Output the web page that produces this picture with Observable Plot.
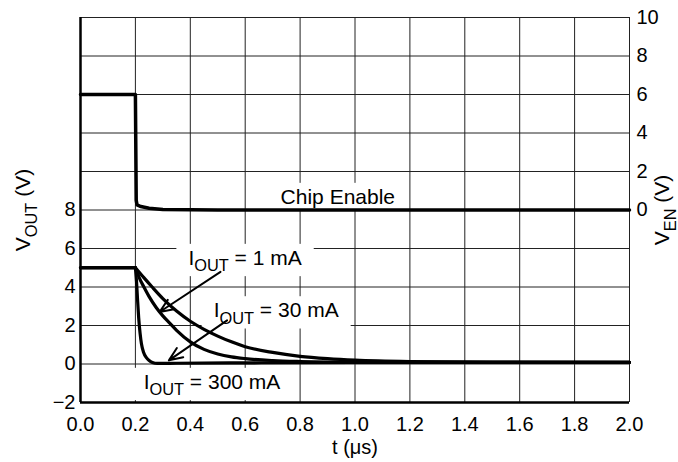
<!DOCTYPE html>
<html><head><meta charset="utf-8">
<script src="https://cdn.jsdelivr.net/npm/d3@7"></script>
<script src="https://cdn.jsdelivr.net/npm/@observablehq/plot@0.6"></script>
<style>
html,body{margin:0;padding:0;background:#fff;}
</style></head><body><div id="chart"></div>
<script>
const FONT = "'Liberation Sans', Arial, Helvetica, sans-serif";

// tick labels
const timeTicks = [0.0, 0.2, 0.4, 0.6, 0.8, 1.0, 1.2, 1.4, 1.6, 1.8, 2.0];
const voutTicks = [-2, 0, 2, 4, 6, 8];
const venTicks = [0, 2, 4, 6, 8, 10];
const gridLevels = [-2, 0, 2, 4, 6, 8, 10, 12, 14, 16, 18];
const VEN_OFFSET = 8; // V_EN 0 sits on V_OUT 8

// series values
const t_1mA = [0, 0.2, 0.23, 0.261, 0.3, 0.35, 0.4, 0.45, 0.5, 0.55, 0.6, 0.7, 0.8, 0.9, 1.0, 1.2, 1.5, 2.0];
const v_1mA = [5.0, 5.0, 4.5, 4.0, 3.4, 2.75, 2.22, 1.8, 1.45, 1.15, 0.9, 0.6, 0.4, 0.28, 0.2, 0.13, 0.1, 0.09];

const t_30mA = [0, 0.2, 0.215, 0.231, 0.25, 0.275, 0.3, 0.325, 0.35, 0.4, 0.45, 0.5, 0.55, 0.6, 0.7, 0.8, 0.9, 1.0, 1.5, 2.0];
const v_30mA = [5.0, 5.0, 4.45, 4.0, 3.5, 2.95, 2.5, 2.12, 1.75, 1.15, 0.76, 0.52, 0.37, 0.28, 0.18, 0.13, 0.1, 0.09, 0.08, 0.08];

const t_300mA = [0, 0.2, 0.204, 0.208, 0.212, 0.217, 0.222, 0.23, 0.24, 0.25, 0.262, 0.28, 0.35, 0.6, 1.0, 2.0];
const v_300mA = [5.0, 5.0, 4.3, 3.3, 2.4, 1.6, 1.05, 0.6, 0.33, 0.18, 0.08, 0.03, 0.04, 0.06, 0.08, 0.08];

const t_chip = [0, 0.2, 0.203, 0.206, 0.22, 0.25, 0.3, 0.5, 1.0, 2.0];
const v_chip = [6.0, 6.0, 0.5, 0.26, 0.18, 0.09, 0.02, 0, 0, 0]; // V_EN

// annotations (data units: t, V_OUT)
const labelText = ["I_{OUT} = 1 mA", "I_{OUT} = 30 mA", "I_{OUT} = 300 mA", "Chip Enable"];
const labelT = [0.393, 0.485, 0.23, 0.729];
const labelV = [5.5, 2.78, -0.94, 8.67];

const arrowT1 = [0.51, 0.534];
const arrowV1 = [4.79, 2.27];
const arrowT2 = [0.288, 0.322];
const arrowV2 = [2.7, 0.19];

// build rows
const rows = [];
const addSeries = (name, ts, vs) => ts.forEach((t, i) => rows.push({series: name, t, v: vs[i]}));
addSeries("1 mA", t_1mA, v_1mA);
addSeries("30 mA", t_30mA, v_30mA);
addSeries("300 mA", t_300mA, v_300mA);
const chipRows = t_chip.map((t, i) => ({t, v: v_chip[i] + VEN_OFFSET}));
const labels = labelText.map((s, i) => ({s, t: labelT[i], v: labelV[i]}));
const arrows = arrowT1.map((t, i) => ({t1: t, v1: arrowV1[i], t2: arrowT2[i], v2: arrowV2[i]}));

const minus = d => (d < 0 ? "\u2212" + Math.abs(d) : String(d));

const chart = Plot.plot({
  width: 678, height: 462,
  marginLeft: 80, marginRight: 49, marginTop: 17, marginBottom: 60,
  x: {domain: [0, 2]},
  y: {domain: [-2, 18]},
  style: {fontFamily: FONT, fontSize: "20px", color: "#000", background: "#fff"},
  marks: [
    Plot.ruleX(timeTicks, {stroke: "#222", strokeWidth: 1}),
    Plot.ruleY(gridLevels, {stroke: "#222", strokeWidth: 1}),
    Plot.ruleX([0], {stroke: "#000", strokeWidth: 2.5}),
    Plot.ruleY([-2], {stroke: "#000", strokeWidth: 2.5}),
    Plot.axisX({ticks: timeTicks, tickFormat: d => d.toFixed(1), tickSize: 0, tickPadding: 14, fontSize: 20, label: null}),
    Plot.axisY({anchor: "left", ticks: voutTicks, tickFormat: minus, tickSize: 0, tickPadding: 5, fontSize: 20, label: null}),
    Plot.axisY({anchor: "right", ticks: venTicks.map(v => v + VEN_OFFSET), tickFormat: d => String(d - VEN_OFFSET), tickSize: 0, tickPadding: 7, fontSize: 20, label: null}),
    Plot.text(labels, {x: "t", y: "v", text: "s", textAnchor: "start", fontSize: 21, fill: "#000", className: "boxed"}),
    Plot.line(chipRows, {x: "t", y: "v", stroke: "#000", strokeWidth: 3.5}),
    Plot.line(rows, {filter: d => d.t <= 0.2, x: "t", y: "v", z: "series", stroke: "#000", strokeWidth: 3.2}),
    Plot.line(rows, {filter: d => d.t >= 0.2, x: "t", y: "v", z: "series", stroke: "#000", strokeWidth: 3.2, curve: "monotone-x"}),
    Plot.arrow(arrows, {x1: "t1", y1: "v1", x2: "t2", y2: "v2", stroke: "#000", strokeWidth: 2, headLength: 11, headAngle: 45}),
    Plot.text([0], {frameAnchor: "left", textAnchor: "middle", lineAnchor: "middle", text: () => "V_{OUT} (V)", rotate: -90, dx: -57, fontSize: 21}),
    Plot.text([0], {frameAnchor: "right", textAnchor: "middle", lineAnchor: "middle", text: () => "V_{EN} (V)", rotate: -90, dx: 33, fontSize: 21}),
    Plot.text([0], {frameAnchor: "bottom", textAnchor: "middle", lineAnchor: "middle", text: () => "t (\u03bcs)", dy: 45, fontSize: 20})
  ]
});
document.getElementById("chart").appendChild(chart);

// turn _{...} into real subscript tspans
d3.select(chart).selectAll("text").each(function () {
  const el = this;
  const s = el.textContent;
  if (!/_\{/.test(s)) return;
  const fs = parseFloat(getComputedStyle(el).fontSize) || 20;
  const parts = s.split(/(_\{[^}]*\})/);
  el.textContent = "";
  let shifted = false;
  parts.forEach(p => {
    if (!p) return;
    const ts = d3.select(el).append("tspan");
    if (p.startsWith("_{")) {
      ts.text(p.slice(2, -1)).attr("font-size", fs * 0.78).attr("dy", fs * 0.3);
      shifted = true;
    } else {
      ts.text(p);
      if (shifted) { ts.attr("dy", -fs * 0.3); shifted = false; }
    }
  });
});

// white boxes behind annotation texts (they hide the grid, as in the original)
d3.select(chart).selectAll("g.boxed text").each(function () {
  const b = this.getBBox();
  const padX = 12, padY = 2;
  const r = document.createElementNS("http://www.w3.org/2000/svg", "rect");
  r.setAttribute("x", b.x - padX);
  r.setAttribute("y", b.y - padY);
  r.setAttribute("width", b.width + 2 * padX);
  r.setAttribute("height", b.height + 2 * padY);
  r.setAttribute("fill", "#fff");
  r.setAttribute("stroke", "none");
  const tr = this.getAttribute("transform");
  if (tr) r.setAttribute("transform", tr);
  this.parentNode.insertBefore(r, this);
});
</script></body></html>
